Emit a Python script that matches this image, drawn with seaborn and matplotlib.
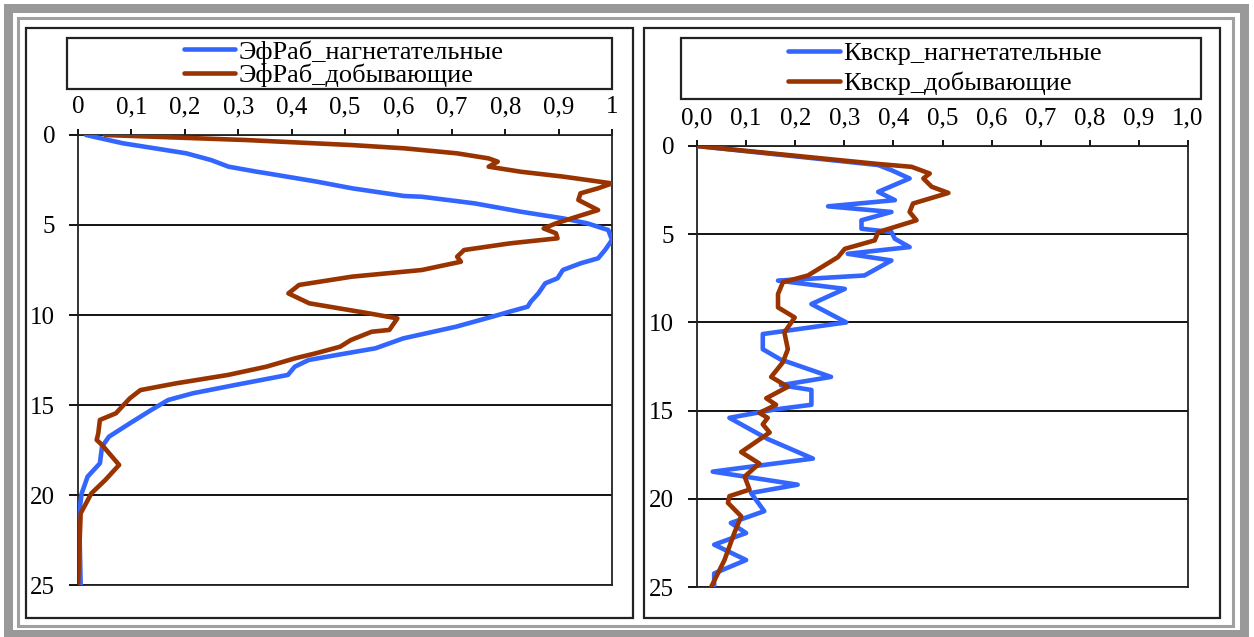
import matplotlib
matplotlib.use("Agg")
import matplotlib.pyplot as plt
from matplotlib.patches import Rectangle
import seaborn as sns
import pandas as pd

# ---------------- data ----------------
# Left panel: ЭфРаб (depth, value)
eff_inj_depth = [0, 0.46, 0.83, 1.02, 1.39, 1.76, 2.04, 2.13, 2.59, 2.96, 3.39, 3.43, 3.8, 4.26,
                 4.63, 4.91, 5.28, 5.83, 6.39, 6.85, 7.13, 7.5, 7.96, 8.24, 8.8, 9.26, 9.54, 9.81,
                 10.1, 10.65, 11.3, 11.85, 12.22, 12.5, 12.87, 13.33, 13.89, 14.35, 14.72, 15.28,
                 16.02, 16.76, 17.31, 18.24, 18.98, 19.9, 21.0, 25.0]
eff_inj_value = [0.015, 0.084, 0.163, 0.203, 0.249, 0.282, 0.335, 0.354, 0.447, 0.513, 0.611, 0.644,
                 0.743, 0.829, 0.908, 0.954, 0.993, 1.0, 0.987, 0.974, 0.941, 0.908, 0.898, 0.875,
                 0.862, 0.848, 0.842, 0.809, 0.775, 0.708, 0.609, 0.557, 0.485, 0.432, 0.406, 0.393,
                 0.294, 0.215, 0.169, 0.137, 0.097, 0.058, 0.045, 0.041, 0.018, 0.007, 0.002, 0.005]

eff_prod_depth = [0, 0.28, 0.56, 0.74, 1.02, 1.30, 1.48, 1.76, 2.04, 2.31, 2.69, 2.96, 3.24, 3.61,
                  4.17, 4.54, 4.91, 5.19, 5.46, 5.74, 6.02, 6.39, 6.76, 7.04, 7.5, 7.87, 8.33, 8.8,
                  9.35, 9.91, 10.19, 10.83, 10.93, 11.39, 11.76, 12.13, 12.41, 12.87, 13.33, 13.8,
                  14.17, 14.63, 15.46, 15.83, 16.57, 16.94, 17.22, 18.33, 19.17, 19.91, 21.02, 25.0]
eff_prod_value = [0.051, 0.315, 0.513, 0.611, 0.710, 0.769, 0.786, 0.769, 0.829, 0.908, 1.0, 0.974,
                  0.941, 0.937, 0.974, 0.934, 0.895, 0.872, 0.895, 0.898, 0.809, 0.723, 0.710, 0.717,
                  0.644, 0.513, 0.414, 0.394, 0.433, 0.545, 0.598, 0.583, 0.550, 0.511, 0.491, 0.445,
                  0.406, 0.353, 0.281, 0.183, 0.117, 0.097, 0.071, 0.041, 0.038, 0.035, 0.045, 0.077,
                  0.051, 0.025, 0.005, 0.0]

# Right panel: Квскр (depth, value)
kv_inj_depth = [0, 1.08, 1.37, 1.84, 2.6, 3.07, 3.42, 3.74, 4.21, 4.69, 4.88, 5.26, 5.73, 6.11,
                6.49, 7.34, 7.63, 8.10, 8.96, 10.0, 10.66, 11.52, 12.1, 13.09, 13.56, 13.83, 14.67,
                14.94, 15.41, 16.61, 17.72, 18.46, 19.2, 19.67, 20.7, 21.37, 21.94, 22.6, 23.47,
                24.23, 24.95]
kv_inj_value = [0.0, 0.369, 0.396, 0.433, 0.369, 0.403, 0.267, 0.396, 0.335, 0.335, 0.396, 0.403,
                0.433, 0.307, 0.396, 0.341, 0.165, 0.301, 0.233, 0.304, 0.134, 0.134, 0.170, 0.273,
                0.171, 0.233, 0.233, 0.158, 0.066, 0.144, 0.236, 0.032, 0.205, 0.110, 0.137, 0.069,
                0.100, 0.035, 0.100, 0.035, 0.035]

kv_prod_depth = [0, 1.02, 1.18, 1.56, 1.84, 2.31, 2.66, 3.26, 3.74, 4.21, 4.88, 5.35, 5.83, 6.30,
                 7.34, 7.72, 8.39, 9.15, 9.72, 10.57, 11.52, 12.26, 13.09, 13.65, 14.30, 14.67,
                 15.13, 15.41, 15.78, 16.24, 17.35, 18.0, 18.74, 19.48, 19.85, 20.23, 20.99, 21.94,
                 23.47, 24.99]
kv_prod_value = [0.0, 0.369, 0.437, 0.474, 0.461, 0.478, 0.512, 0.440, 0.433, 0.447, 0.369, 0.362,
                 0.301, 0.287, 0.226, 0.175, 0.165, 0.165, 0.199, 0.178, 0.185, 0.175, 0.151, 0.185,
                 0.141, 0.161, 0.127, 0.144, 0.134, 0.148, 0.090, 0.127, 0.097, 0.107, 0.066, 0.063,
                 0.090, 0.076, 0.056, 0.029]

left_labels = ["ЭфРаб_нагнетательные", "ЭфРаб_добывающие"]
right_labels = ["Квскр_нагнетательные", "Квскр_добывающие"]
left_xticklabels = ["0", "0,1", "0,2", "0,3", "0,4", "0,5", "0,6", "0,7", "0,8", "0,9", "1"]
right_xticklabels = ["0,0", "0,1", "0,2", "0,3", "0,4", "0,5", "0,6", "0,7", "0,8", "0,9", "1,0"]
x_ticks = [0, 0.1, 0.2, 0.3, 0.4, 0.5, 0.6, 0.7, 0.8, 0.9, 1.0]
y_ticks = [0, 5, 10, 15, 20, 25]

BLUE = "#3366FF"
BROWN = "#993300"

# ---------------- style ----------------
sns.set_theme(style="white")
plt.rcParams["font.family"] = ["Liberation Serif", "DejaVu Serif"]
FS_TICK = 18
FS_LEG = 19

W, H = 1254, 637
fig = plt.figure(figsize=(W / 100, H / 100), dpi=100)
fig.patch.set_facecolor("white")


def fx(px):
    return px / W


def fy(py):
    return 1 - py / H


def frect(x0, y0, x1, y1, **kw):
    r = Rectangle((fx(x0), fy(y1)), fx(x1) - fx(x0), fy(y0) - fy(y1),
                  transform=fig.transFigure, **kw)
    fig.patches.append(r)


# outer frame decoration
frect(4, 4, 1249, 637, facecolor="#999999", edgecolor="none", zorder=-10)
frect(13, 13, 1240, 630, facecolor="white", edgecolor="none", zorder=-9)
frect(17.5, 17.5, 1233, 626, facecolor="none", edgecolor="#a0a0a0", lw=2.2, zorder=-8)
# panel frames
frect(26, 28, 633, 618, facecolor="white", edgecolor="#222222", lw=1.6, zorder=-7)
frect(644, 28, 1220, 618, facecolor="white", edgecolor="#222222", lw=1.6, zorder=-7)


def make_panel(rect_px, d1, v1, d2, v2, labels, xticklabels, legend_px, row_gap):
    x0, y0, x1, y1 = rect_px
    ax = fig.add_axes([fx(x0), fy(y1), fx(x1) - fx(x0), fy(y0) - fy(y1)])
    ax.set_facecolor("none")
    df1 = pd.DataFrame({"depth": d1, "value": v1})
    df2 = pd.DataFrame({"depth": d2, "value": v2})
    sns.lineplot(data=df1, x="value", y="depth", sort=False, estimator=None, color=BLUE,
                 lw=3.3, ax=ax, label=labels[0], legend=False, zorder=3)
    sns.lineplot(data=df2, x="value", y="depth", sort=False, estimator=None, color=BROWN,
                 lw=3.3, ax=ax, label=labels[1], legend=False, zorder=4)
    ax.set_xlim(0, 1)
    ax.set_ylim(25, 0)
    ax.set_xlabel("")
    ax.set_ylabel("")
    ax.xaxis.tick_top()
    ax.set_xticks(x_ticks)
    ax.set_xticklabels(xticklabels)
    ax.set_yticks(y_ticks)
    ax.tick_params(axis="x", direction="out", length=4.5, width=1.3, color="black",
                   labelsize=FS_TICK, pad=7.5, top=True, bottom=False)
    ax.tick_params(axis="y", direction="out", length=6.5, width=1.3, color="black",
                   labelsize=FS_TICK, pad=10, left=True)
    ax.yaxis.grid(True, color="black", lw=1.3)
    ax.xaxis.grid(False)
    for s in ax.spines.values():
        s.set_visible(True)
        s.set_color("#222222")
        s.set_linewidth(1.3)
    for t in ax.get_xticklabels() + ax.get_yticklabels():
        t.set_color("black")
    # legend box
    lx0, ly0, lx1, ly1 = legend_px
    frect(lx0, ly0, lx1, ly1, facecolor="white", edgecolor="#222222", lw=1.6, zorder=-6)
    handles = ax.get_lines()[:2]
    leg = ax.legend(handles=handles, labels=labels, loc="center",
                    bbox_to_anchor=(fx((lx0 + lx1) / 2 + 4), fy((ly0 + ly1) / 2)),
                    bbox_transform=fig.transFigure, frameon=False, fontsize=FS_LEG,
                    handlelength=1.95, handletextpad=0.12, labelspacing=row_gap,
                    borderpad=0, borderaxespad=0)
    for t in leg.get_texts():
        t.set_color("black")
    return ax


make_panel((78, 135, 612, 585), eff_inj_depth, eff_inj_value, eff_prod_depth, eff_prod_value,
           left_labels, left_xticklabels, (67, 38, 612, 89), 0.0)
make_panel((697, 146, 1188, 587), kv_inj_depth, kv_inj_value, kv_prod_depth, kv_prod_value,
           right_labels, right_xticklabels, (681, 38, 1201, 99), 0.25)

fig.savefig("out.png", dpi=100, facecolor="white")
